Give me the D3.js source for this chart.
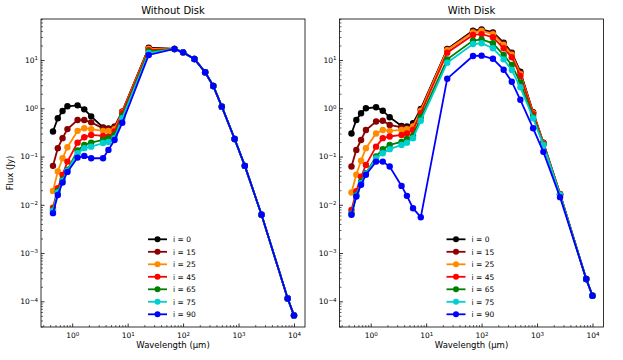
<!DOCTYPE html>
<html>
<head>
<meta charset="utf-8">
<script src="https://cdn.jsdelivr.net/npm/d3@7"></script>
<style>
    body { margin: 0; background: #fff; }
    text { font-family: "DejaVu Sans", sans-serif; fill: #000; }
</style>
</head>
<body>
<svg id="chart" width="623" height="360"></svg>
<script>
// wavelengths in micron
var wavelengths = [0.45, 0.55, 0.67, 0.82, 1.25, 1.65, 2.2, 3.6, 4.5, 5.8, 8.0, 24, 70, 100, 160, 250, 350, 500, 850, 1300, 2600, 7700, 10000];

var inclinations = ["i = 0", "i = 15", "i = 25", "i = 45", "i = 65", "i = 75", "i = 90"];
var colors = ["#000000", "#8b0000", "#ff8c00", "#ff0000", "#008000", "#00ced1", "#0000ff"];

var xTicks = [1, 10, 100, 1000, 10000];
var xTickExp = ["0", "1", "2", "3", "4"];
var yTicks = [1e-4, 1e-3, 1e-2, 1e-1, 1, 10];
var yTickExp = ["\u22124", "\u22123", "\u22122", "\u22121", "0", "1"];

// Without Disk (Jy)
var noDisk0 = [0.33, 0.62, 0.88, 1.1, 1.15, 0.95, 0.68, 0.40, 0.38, 0.40, 0.85, 18, 16.9, 14.4, 10.5, 5.56, 2.9, 1.08, 0.231, 0.064, 0.0062, 1.14e-4, 5.1e-5];
var noDisk15 = [0.064, 0.149, 0.24, 0.37, 0.57, 0.57, 0.51, 0.385, 0.37, 0.42, 0.85, 17.5, 16.9, 14.4, 10.5, 5.56, 2.9, 1.08, 0.231, 0.064, 0.0062, 1.14e-4, 5.1e-5];
var noDisk25 = [0.0194, 0.049, 0.092, 0.156, 0.34, 0.385, 0.37, 0.34, 0.34, 0.37, 0.82, 17, 16.9, 14.4, 10.5, 5.56, 2.9, 1.08, 0.231, 0.064, 0.0062, 1.14e-4, 5.1e-5];
var noDisk45 = [0.0087, 0.022, 0.0416, 0.0785, 0.194, 0.25, 0.28, 0.267, 0.258, 0.33, 0.79, 16, 16.9, 14.4, 10.5, 5.56, 2.9, 1.08, 0.231, 0.064, 0.0062, 1.14e-4, 5.1e-5];
var noDisk65 = [0.0078, 0.019, 0.033, 0.053, 0.133, 0.174, 0.194, 0.22, 0.24, 0.28, 0.69, 15, 16.9, 14.4, 10.5, 5.56, 2.9, 1.08, 0.231, 0.064, 0.0062, 1.14e-4, 5.1e-5];
var noDisk75 = [0.0075, 0.018, 0.031, 0.051, 0.117, 0.149, 0.16, 0.19, 0.20, 0.24, 0.62, 14, 16.9, 14.4, 10.5, 5.56, 2.9, 1.08, 0.231, 0.064, 0.0062, 1.14e-4, 5.1e-5];
var noDisk90 = [0.0067, 0.016, 0.029, 0.048, 0.095, 0.103, 0.092, 0.092, 0.137, 0.22, 0.50, 12.7, 16.9, 14.4, 10.5, 5.56, 2.9, 1.08, 0.231, 0.064, 0.0062, 1.14e-4, 5.1e-5];

// With Disk (Jy)
var disk0 = [0.30, 0.57, 0.79, 1.0, 1.05, 0.89, 0.65, 0.43, 0.42, 0.49, 0.97, 16.9, 40.4, 43, 37.4, 22.8, 14.2, 5.7, 0.83, 0.194, 0.0168, 2.9e-4, 1.3e-4];
var disk15 = [0.062, 0.137, 0.22, 0.355, 0.53, 0.55, 0.45, 0.40, 0.385, 0.43, 0.92, 16.5, 39, 41.5, 36, 21.8, 13.6, 5.4, 0.81, 0.19, 0.0166, 2.9e-4, 1.3e-4];
var disk25 = [0.0179, 0.042, 0.082, 0.149, 0.30, 0.355, 0.34, 0.355, 0.37, 0.42, 0.88, 16, 37.4, 39.8, 34.4, 20.4, 12.8, 5.1, 0.79, 0.187, 0.0165, 2.9e-4, 1.3e-4];
var disk45 = [0.0078, 0.019, 0.038, 0.067, 0.16, 0.24, 0.26, 0.28, 0.30, 0.355, 0.79, 14.2, 33, 34.4, 29.6, 17.5, 11.4, 4.66, 0.75, 0.183, 0.0164, 2.9e-4, 1.3e-4];
var disk65 = [0.0066, 0.016, 0.030, 0.045, 0.10, 0.142, 0.174, 0.20, 0.23, 0.27, 0.65, 10.3, 25.2, 26.8, 22.2, 12.7, 7.9, 3.4, 0.67, 0.178, 0.0162, 2.9e-4, 1.3e-4];
var disk75 = [0.0064, 0.0155, 0.028, 0.044, 0.092, 0.117, 0.142, 0.174, 0.194, 0.24, 0.55, 8.8, 21.4, 22.2, 17.5, 10.3, 6.2, 2.72, 0.62, 0.174, 0.016, 2.9e-4, 1.3e-4];
var disk90 = [0.0062, 0.0148, 0.026, 0.042, 0.0785, 0.0785, 0.062, 0.0246, 0.0153, 0.0085, 0.0055, 4.1, 12.1, 12.3, 10.6, 6.3, 3.55, 1.5, 0.385, 0.125, 0.0144, 2.9e-4, 1.3e-4];

var panels = [
    { title: "Without Disk", left: 41, series: [noDisk0, noDisk15, noDisk25, noDisk45, noDisk65, noDisk75, noDisk90], ylabel: true },
    { title: "With Disk", left: 339.5, series: [disk0, disk15, disk25, disk45, disk65, disk75, disk90], ylabel: false }
];

var svg = d3.select("#chart"),
    marginTop = 19,
    width = 264,
    height = 308;

function supLabel(sel, exps) {
    sel.each(function (d, i) {
        var t = d3.select(this);
        t.text("");
        t.append("tspan").text("10");
        t.append("tspan").attr("dy", "-0.45em").style("font-size", "5.5px").text(exps[i]);
    });
}

function minors(lo, hi) {
    var out = [];
    for (var e = lo; e <= hi; e++) {
        for (var m = 2; m <= 9; m++) out.push(m * Math.pow(10, e));
    }
    return out;
}

panels.forEach(function (p) {
    var g = svg.append("g").attr("transform", "translate(" + p.left + "," + marginTop + ")");

    var x = d3.scaleLog().domain([0.2737, 15800]).range([0, width]);
    var y = d3.scaleLog().domain([2.934e-5, 70.7]).range([height, 0]);

    // minor ticks
    var xMin = minors(-1, 4).filter(function (v) { return v > 0.2737 && v < 15800; });
    var yMin = minors(-5, 1).filter(function (v) { return v > 2.934e-5 && v < 70.7; });

    g.append("g")
        .attr("transform", "translate(0," + height + ")")
        .call(d3.axisBottom(x).tickValues(xMin).tickSize(-2).tickFormat(""))
        .call(function (a) { a.select(".domain").remove(); a.selectAll("line").attr("stroke-width", 0.6); });

    g.append("g")
        .call(d3.axisLeft(y).tickValues(yMin).tickSize(-2).tickFormat(""))
        .call(function (a) { a.select(".domain").remove(); a.selectAll("line").attr("stroke-width", 0.6); });

    // major ticks
    var xa = g.append("g")
        .attr("transform", "translate(0," + height + ")")
        .call(d3.axisBottom(x).tickValues(xTicks).tickSize(-3.5).tickPadding(5));
    xa.select(".domain").remove();
    xa.selectAll("line").attr("stroke-width", 0.8);
    xa.selectAll("text").style("font-size", "7.5px").style("font-family", "DejaVu Sans").attr("dy", "0.85em").call(supLabel, xTickExp);

    var ya = g.append("g")
        .call(d3.axisLeft(y).tickValues(yTicks).tickSize(-3.5).tickPadding(3));
    ya.select(".domain").remove();
    ya.selectAll("line").attr("stroke-width", 0.8);
    ya.selectAll("text").style("font-size", "7.5px").style("font-family", "DejaVu Sans").call(supLabel, yTickExp);

    // frame
    g.append("rect")
        .attr("width", width)
        .attr("height", height)
        .attr("fill", "none")
        .attr("stroke", "#000")
        .attr("stroke-width", 0.8);

    var line = d3.line()
        .x(function (d, i) { return x(wavelengths[i]); })
        .y(function (d) { return y(d); });

    p.series.forEach(function (s, k) {
        g.append("path")
            .datum(s)
            .attr("d", line)
            .attr("fill", "none")
            .attr("stroke", colors[k])
            .attr("stroke-width", 1.8);

        g.selectAll(".pt" + k)
            .data(s)
            .enter().append("circle")
            .attr("cx", function (d, i) { return x(wavelengths[i]); })
            .attr("cy", function (d) { return y(d); })
            .attr("r", 3.2)
            .attr("fill", colors[k]);
    });

    // legend
    var lg = g.append("g").attr("transform", "translate(107,220.3)");
    inclinations.forEach(function (name, k) {
        var row = lg.append("g").attr("transform", "translate(0," + (k * 12.5) + ")");
        row.append("line")
            .attr("x1", 0).attr("x2", 19)
            .attr("stroke", colors[k])
            .attr("stroke-width", 1.8);
        row.append("circle")
            .attr("cx", 9.5)
            .attr("r", 3)
            .attr("fill", colors[k]);
        row.append("text")
            .attr("x", 25)
            .attr("y", 2.7)
            .style("font-size", "7.5px")
            .text(name);
    });

    g.append("text")
        .attr("x", width / 2)
        .attr("y", -5)
        .attr("text-anchor", "middle")
        .style("font-size", "10px")
        .text(p.title);

    g.append("text")
        .attr("x", width / 2)
        .attr("y", height + 21)
        .attr("text-anchor", "middle")
        .style("font-size", "8.5px")
        .text("Wavelength (\u00b5m)");

    if (p.ylabel) {
        g.append("text")
            .attr("transform", "rotate(-90)")
            .attr("x", -height / 2)
            .attr("y", -28)
            .attr("text-anchor", "middle")
            .style("font-size", "8.5px")
            .text("Flux (Jy)");
    }
});
</script>
</body>
</html>
